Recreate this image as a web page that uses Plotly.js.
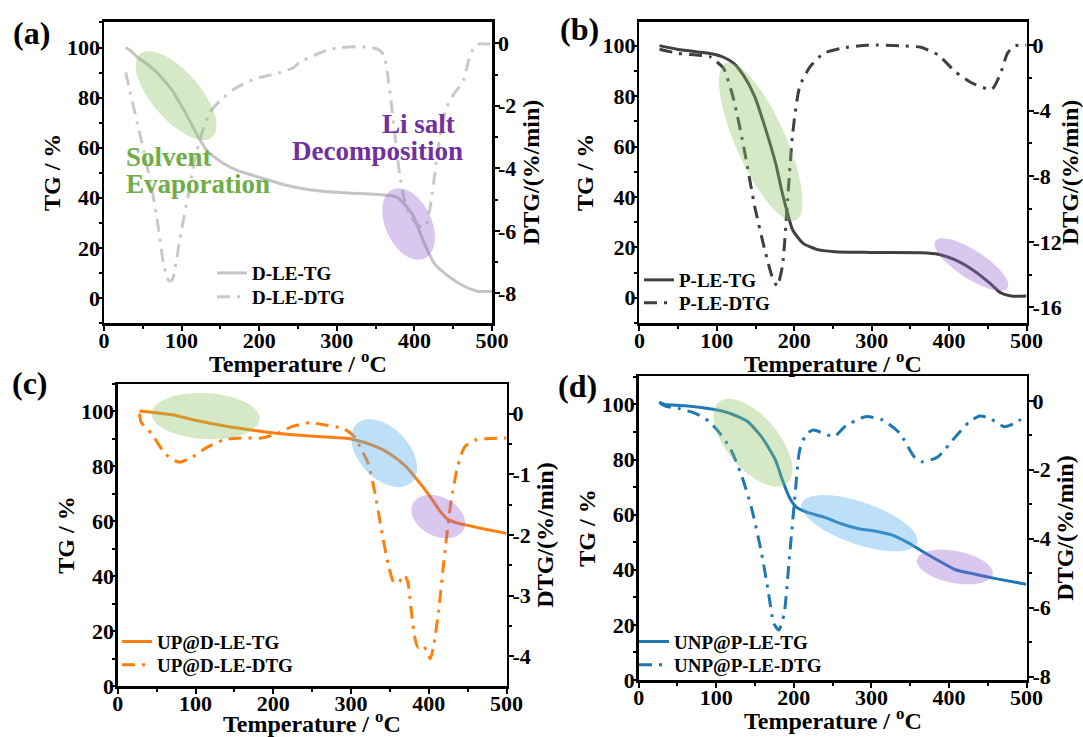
<!DOCTYPE html>
<html><head><meta charset="utf-8">
<script src="https://cdn.plot.ly/plotly-3.0.1.min.js"></script>
<style>html,body{margin:0;padding:0;background:#fff;}#chart{width:1083px;height:737px;}</style>
</head><body><div id="chart"></div>
<script>
// ---------- data: panel (a) D-LE ----------
const aT_tg = [28, 35, 43.5, 55, 66, 77, 88, 97, 105.7, 115, 123, 132, 140, 154.5, 175, 199, 220, 243, 265, 288, 320, 354, 365, 376.5, 390, 399, 407.6, 416.5, 425.4, 438.7, 456.6, 474.4, 483, 490, 500];
const aTG   = [100, 98.5, 96, 93.5, 90.7, 87, 82.8, 78.2, 73.5, 68, 63.5, 59, 56.8, 53.6, 50.5, 48.3, 46.3, 44.4, 43.2, 42.4, 41.8, 41.3, 41.0, 40.4, 36.4, 32.5, 25.8, 19.2, 13.9, 9.9, 6, 3.3, 2.6, 2.6, 2.6];
const aT_d  = [28, 33, 48, 61.3, 70, 76.8, 83.5, 88, 92.4, 99, 108, 116.8, 125.7, 136.8, 150, 168, 194.5, 221, 234.5, 243, 252, 270, 288, 305, 327.7, 345, 354, 360.9, 365.3, 369.8, 375.6, 380.9, 386.3, 392, 398.8, 405.4, 412, 416.5, 421, 426.3, 432, 439, 445.4, 454.3, 463.2, 469.8, 476.5, 483.1, 490, 500];
const aDTG  = [-0.93, -1.5, -3.1, -4.6, -5.9, -7.06, -7.6, -7.57, -7.06, -6.1, -4.93, -3.75, -2.9, -2.2, -1.83, -1.46, -1.14, -0.98, -0.87, -0.8, -0.61, -0.4, -0.21, -0.14, -0.11, -0.14, -0.21, -0.39, -0.98, -1.83, -3.11, -4.18, -4.93, -5.35, -5.67, -5.83, -5.89, -5.73, -5.14, -4.18, -3.11, -2.26, -1.83, -1.51, -1.19, -0.55, -0.13, -0.02, -0.02, -0.02];

// ---------- data: panel (b) P-LE ----------
const bT_tg = [26, 50, 73, 95, 108.7, 122, 135.5, 149, 162, 176, 184.7, 191.4, 198, 211.5, 229, 252, 296.5, 363.6, 386, 408, 430.7, 453, 466.5, 480, 500];
const bTG   = [100, 98.5, 97.6, 96.7, 95.4, 93, 87.7, 79.8, 67.9, 53.3, 41.4, 33.5, 26.9, 21.6, 19.2, 18.3, 18, 17.9, 17.3, 15, 11, 5.7, 2, 0.7, 0.7];
const bT_d  = [26, 50.5, 73, 90.8, 99.7, 108.7, 122, 135.5, 149, 162, 171.3, 178, 184.7, 191.4, 198, 207, 220.5, 238, 260.7, 296.5, 341, 363.6, 386, 408, 430.7, 455.3, 466.5, 475.4, 484.4, 500];
const bDTG  = [-0.26, -0.51, -0.61, -0.71, -1.02, -1.42, -3.35, -6.4, -9.86, -12.5, -14.1, -14.7, -13.5, -9.45, -5.39, -2.54, -1.32, -0.51, -0.2, 0, -0.06, -0.14, -0.61, -1.63, -2.34, -2.7, -1.73, -0.51, -0.06, 0];

// ---------- data: panel (c) UP@D-LE ----------
const cT_tg = [27.9, 50, 70, 101, 136, 176, 211.5, 247, 291, 304.4, 326.5, 348.7, 370.8, 388.5, 401.8, 415, 424, 437, 468, 500];
const cTG   = [100.2, 99.5, 98.8, 96.7, 94.8, 93.1, 91.9, 91.1, 90.3, 89.7, 87.8, 84.8, 79.9, 73.9, 69, 63.5, 60.8, 59.3, 57.4, 55.6];
const cT_d  = [28, 30, 43.4, 61, 79, 96.5, 114, 136, 158.4, 185, 202.7, 224.8, 247, 269, 291, 304.4, 313, 322, 331, 340, 348.7, 355.3, 362, 368.6, 373, 377.4, 381.9, 386, 393, 401.8, 406, 412.8, 419.5, 428.3, 437, 446, 459, 477, 500];
const cDTG  = [0, -0.14, -0.33, -0.66, -0.8, -0.71, -0.56, -0.43, -0.4, -0.4, -0.34, -0.21, -0.15, -0.19, -0.25, -0.38, -0.58, -0.82, -1.32, -1.98, -2.53, -2.79, -2.77, -2.66, -2.77, -3.24, -3.68, -3.85, -3.82, -4.04, -3.85, -3.24, -2.42, -1.48, -0.88, -0.55, -0.44, -0.41, -0.4];

// ---------- data: panel (d) UNP@P-LE ----------
const dT_tg = [26.8, 33.5, 60, 96, 118, 140.6, 158.5, 176.3, 185.3, 194, 203, 216.5, 238.8, 261, 283.5, 305.8, 328, 346, 363.8, 386, 408.5, 435, 462, 500];
const dTG   = [100.6, 100, 99.5, 98.2, 96.7, 93.7, 88.2, 79.8, 72.5, 66.4, 62.8, 60.9, 59.1, 56.7, 54.9, 54, 52.5, 50, 47, 43.4, 40, 38.3, 36.7, 34.7];
const dT_d  = [26.8, 33.5, 51, 73.7, 91.5, 105, 118, 131.7, 145, 158.5, 167.4, 174, 180.8, 187.5, 194, 201, 207.6, 216.5, 225.4, 238.8, 252.2, 265.6, 292.4, 314.7, 337, 355, 366, 386, 408.5, 426.3, 439.7, 453, 471, 484.4, 500];
const dDTG  = [-0.03, -0.15, -0.22, -0.37, -0.61, -0.95, -1.38, -2.11, -3.07, -4.43, -5.58, -6.45, -6.65, -6.17, -4.62, -2.88, -1.43, -0.95, -0.85, -0.95, -1.04, -0.75, -0.46, -0.56, -0.95, -1.62, -1.77, -1.62, -1.04, -0.61, -0.44, -0.51, -0.75, -0.66, -0.42];

// ---------- names and tick labels ----------
const names = ['D-LE-TG', 'D-LE-DTG', 'P-LE-TG', 'P-LE-DTG', 'UP@D-LE-TG', 'UP@D-LE-DTG', 'UNP@P-LE-TG', 'UNP@P-LE-DTG'];
const panelLabels = ['(a)', '(b)', '(c)', '(d)'];
const aRightTicks = [0, -2, -4, -6, -8];
const bRightTicks = [0, -4, -8, -12, -16];
const cRightTicks = [0, -1, -2, -3, -4];
const dRightTicks = [0, -2, -4, -6, -8];
const xTitle = 'Temperature / <sup>o</sup>C';
const yTitle = 'TG / %';
const y2Title = 'DTG/(%/min)';

// ---------- layout geometry ----------
const W = 1083, H = 737;
const F = 'Liberation Serif, Times New Roman, serif';
const P = {
  a: {xd: [104/W, 492/W], yd: [1-323/H, 1-21.7/H], yr: [-10, 110.3], y2r: [-8.95, 0.69], xt: 362},
  b: {xd: [639.4/W, 1026.5/W], yd: [1-323/H, 1-21.7/H], yr: [-10, 109.5], y2r: [-16.95, 1.42], xt: 362},
  c: {xd: [117.8/W, 506.5/W], yd: [1-686/H, 1-384/H], yr: [0, 110], y2r: [-4.49, 0.49], xt: 722},
  d: {xd: [638.7/W, 1026.5/W], yd: [1-680/H, 1-376/H], yr: [0, 110.3], y2r: [-8.1, 0.72], xt: 719}
};
const XR = [0, 500];

const DASH = '13px,7px,3px,7px';
function tr(x, y, name, color, xa, ya, dash, leg) {
  return {x: x, y: y, name: name, type: 'scatter', mode: 'lines', xaxis: xa, yaxis: ya, legend: leg,
    line: {color: color, width: 3, dash: dash || 'solid', shape: 'spline', smoothing: 0.6}};
}
const traces = [
  tr(aT_tg, aTG, names[0], '#c4c4c4', 'x', 'y', null, 'legend'),
  tr(aT_d, aDTG, names[1], '#c9c9c9', 'x', 'y2', DASH, 'legend2'),
  tr(bT_tg, bTG, names[2], '#404040', 'x2', 'y3', null, 'legend3'),
  tr(bT_d, bDTG, names[3], '#404040', 'x2', 'y4', DASH, 'legend4'),
  tr(cT_tg, cTG, names[4], '#ff7f0e', 'x3', 'y5', null, 'legend5'),
  tr(cT_d, cDTG, names[5], '#ff7f0e', 'x3', 'y6', DASH, 'legend6'),
  tr(dT_tg, dTG, names[6], '#1f77b4', 'x4', 'y7', null, 'legend7'),
  tr(dT_d, dDTG, names[7], '#1f77b4', 'x4', 'y8', DASH, 'legend8')
];

const tickFont = {family: F, size: 22, color: '#000', weight: 'bold'};
const titleFont = {family: F, size: 24, color: '#000', weight: 'bold'};
function xax(p, anchor) {
  return {domain: p.xd, anchor: anchor, range: XR, showline: true, linewidth: 2.5, linecolor: '#000', mirror: true,
    ticks: 'outside', ticklen: 5, tickwidth: 2, tickcolor: '#000', tick0: 0, dtick: 100, ticklabelstandoff: -9,
    minor: {tick0: 0, dtick: 50, ticks: 'outside', ticklen: 3, tickwidth: 2, tickcolor: '#000'},
    showgrid: false, zeroline: false, tickfont: tickFont};
}
function yax(p, anchor, so) {
  return {domain: p.yd, anchor: anchor, range: p.yr, showline: true, linewidth: 2.5, linecolor: '#000',
    ticks: 'outside', ticklen: 5, tickwidth: 2, tickcolor: '#000', tick0: 0, dtick: 20, ticklabelstandoff: -8,
    minor: {tick0: 0, dtick: 10, ticks: 'outside', ticklen: 3, tickwidth: 2, tickcolor: '#000'},
    showgrid: false, zeroline: false, tickfont: tickFont,
    title: {text: yTitle, font: titleFont, standoff: so}};
}
function y2ax(p, anchor, over, ticks, minorStep, so) {
  return {domain: p.yd, anchor: anchor, overlaying: over, side: 'right', range: p.y2r, showline: true, linewidth: 2.5, linecolor: '#000',
    ticks: 'outside', ticklen: 5, tickwidth: 2, tickcolor: '#000', tickmode: 'array', tickvals: ticks, ticktext: ticks.map(String),
    ticklabelstandoff: -6,
    minor: {tickmode: 'linear', tick0: 0, dtick: minorStep, ticks: 'outside', ticklen: 3, tickwidth: 2, tickcolor: '#000'},
    showgrid: false, zeroline: false, tickfont: tickFont,
    title: {text: y2Title, font: titleFont, standoff: so}};
}

// ---------- highlight ellipses (centre in data units, semi-axes in px, tilt in deg) ----------
const GREEN = 'rgba(140,195,100,0.36)', PURPLE = 'rgba(150,100,210,0.36)', BLUE = 'rgba(90,175,235,0.4)';
function ell(p, xref, yref, cx, cy, a, b, th, color) {
  const pxX = (p.xd[1]-p.xd[0])*W/(XR[1]-XR[0]);
  const pxY = (p.yd[1]-p.yd[0])*H/(p.yr[1]-p.yr[0]);
  const t = th*Math.PI/180; let d = '';
  for (let i = 0; i <= 90; i++) {
    const u = i/90*2*Math.PI;
    const dx = a*Math.cos(u)*Math.cos(t) - b*Math.sin(u)*Math.sin(t);
    const dy = a*Math.cos(u)*Math.sin(t) + b*Math.sin(u)*Math.cos(t);
    d += (i ? 'L' : 'M') + (cx + dx/pxX).toFixed(3) + ',' + (cy - dy/pxY).toFixed(3);
  }
  return {type: 'path', xref: xref, yref: yref, path: d + 'Z', fillcolor: color, line: {width: 0}, layer: 'above'};
}
const shapes = [
  ell(P.a, 'x', 'y', 93, 80.8, 55, 24, 49, GREEN),
  ell(P.a, 'x', 'y', 392.5, 29.5, 38, 23, 65, PURPLE),
  ell(P.b, 'x2', 'y3', 156.8, 61.9, 86, 25, 66, GREEN),
  ell(P.b, 'x2', 'y3', 428.9, 13.2, 43, 14, 33, PURPLE),
  ell(P.c, 'x3', 'y5', 113, 98.3, 54, 23, 3, GREEN),
  ell(P.c, 'x3', 'y5', 342.7, 84.8, 40, 25, 47, BLUE),
  ell(P.c, 'x3', 'y5', 412.2, 61.7, 28.5, 19.5, 27, PURPLE),
  ell(P.d, 'x4', 'y7', 147.3, 86.1, 53, 26, 50, GREEN),
  ell(P.d, 'x4', 'y7', 284.6, 56.9, 61, 21, 19, BLUE),
  ell(P.d, 'x4', 'y7', 407.6, 41, 38.5, 16, 11, PURPLE)
];

// ---------- legends (one per entry) ----------
function leg(xpx, ypx) {
  return {x: xpx/W, y: 1-ypx/H, xanchor: 'left', yanchor: 'middle', bgcolor: 'rgba(0,0,0,0)', borderwidth: 0,
    itemwidth: 30, font: {family: F, size: 19, color: '#000', weight: 'bold'}};
}

function txt(text, xpx, ypx, anchor, color, size) {
  return {text: text, xref: 'paper', yref: 'paper', x: xpx/W, y: 1-ypx/H, xanchor: anchor, yanchor: 'middle',
    showarrow: false, font: {family: F, size: size, color: color, weight: 'bold'}};
}
function xTitleAnn(p) {
  return txt(xTitle, (p.xd[0]+p.xd[1])/2*W, p.xt, 'center', '#000', 24);
}
const annotations = [
  txt(panelLabels[0], 31, 33, 'center', '#000', 32),
  txt(panelLabels[1], 579, 29, 'center', '#000', 32),
  txt(panelLabels[2], 30, 383, 'center', '#000', 32),
  txt(panelLabels[3], 577, 386, 'center', '#000', 32),
  txt('Solvent', 124, 157, 'left', '#70ad47', 27),
  txt('Evaporation', 124, 184, 'left', '#70ad47', 27),
  txt('Li salt', 457, 124, 'right', '#7030a0', 27),
  txt('Decomposition', 465, 151, 'right', '#7030a0', 27),
  xTitleAnn(P.a), xTitleAnn(P.b), xTitleAnn(P.c), xTitleAnn(P.d)
];

const layout = {
  width: W, height: H, margin: {l: 0, r: 0, t: 0, b: 0}, paper_bgcolor: '#fff', plot_bgcolor: 'rgba(0,0,0,0)',
  font: {family: F, color: '#000'}, showlegend: true,
  xaxis: xax(P.a, 'y'), xaxis2: xax(P.b, 'y3'), xaxis3: xax(P.c, 'y5'), xaxis4: xax(P.d, 'y7'),
  yaxis: yax(P.a, 'x', 0), yaxis2: y2ax(P.a, 'x', 'y', aRightTicks, 1, 7),
  yaxis3: yax(P.b, 'x2', 2), yaxis4: y2ax(P.b, 'x2', 'y3', bRightTicks, 2, 7),
  yaxis5: yax(P.c, 'x3', 0), yaxis6: y2ax(P.c, 'x3', 'y5', cRightTicks, 0.5, 7),
  yaxis7: yax(P.d, 'x4', 0), yaxis8: y2ax(P.d, 'x4', 'y7', dRightTicks, 1, 7),
  legend: leg(212, 273), legend2: leg(212, 297),
  legend3: leg(639, 280), legend4: leg(639, 303),
  legend5: leg(117, 641.7), legend6: leg(117, 665),
  legend7: leg(634, 641.7), legend8: leg(634, 665),
  shapes: shapes, annotations: annotations
};
Plotly.newPlot('chart', traces, layout, {staticPlot: true, displayModeBar: false});
</script></body></html>
